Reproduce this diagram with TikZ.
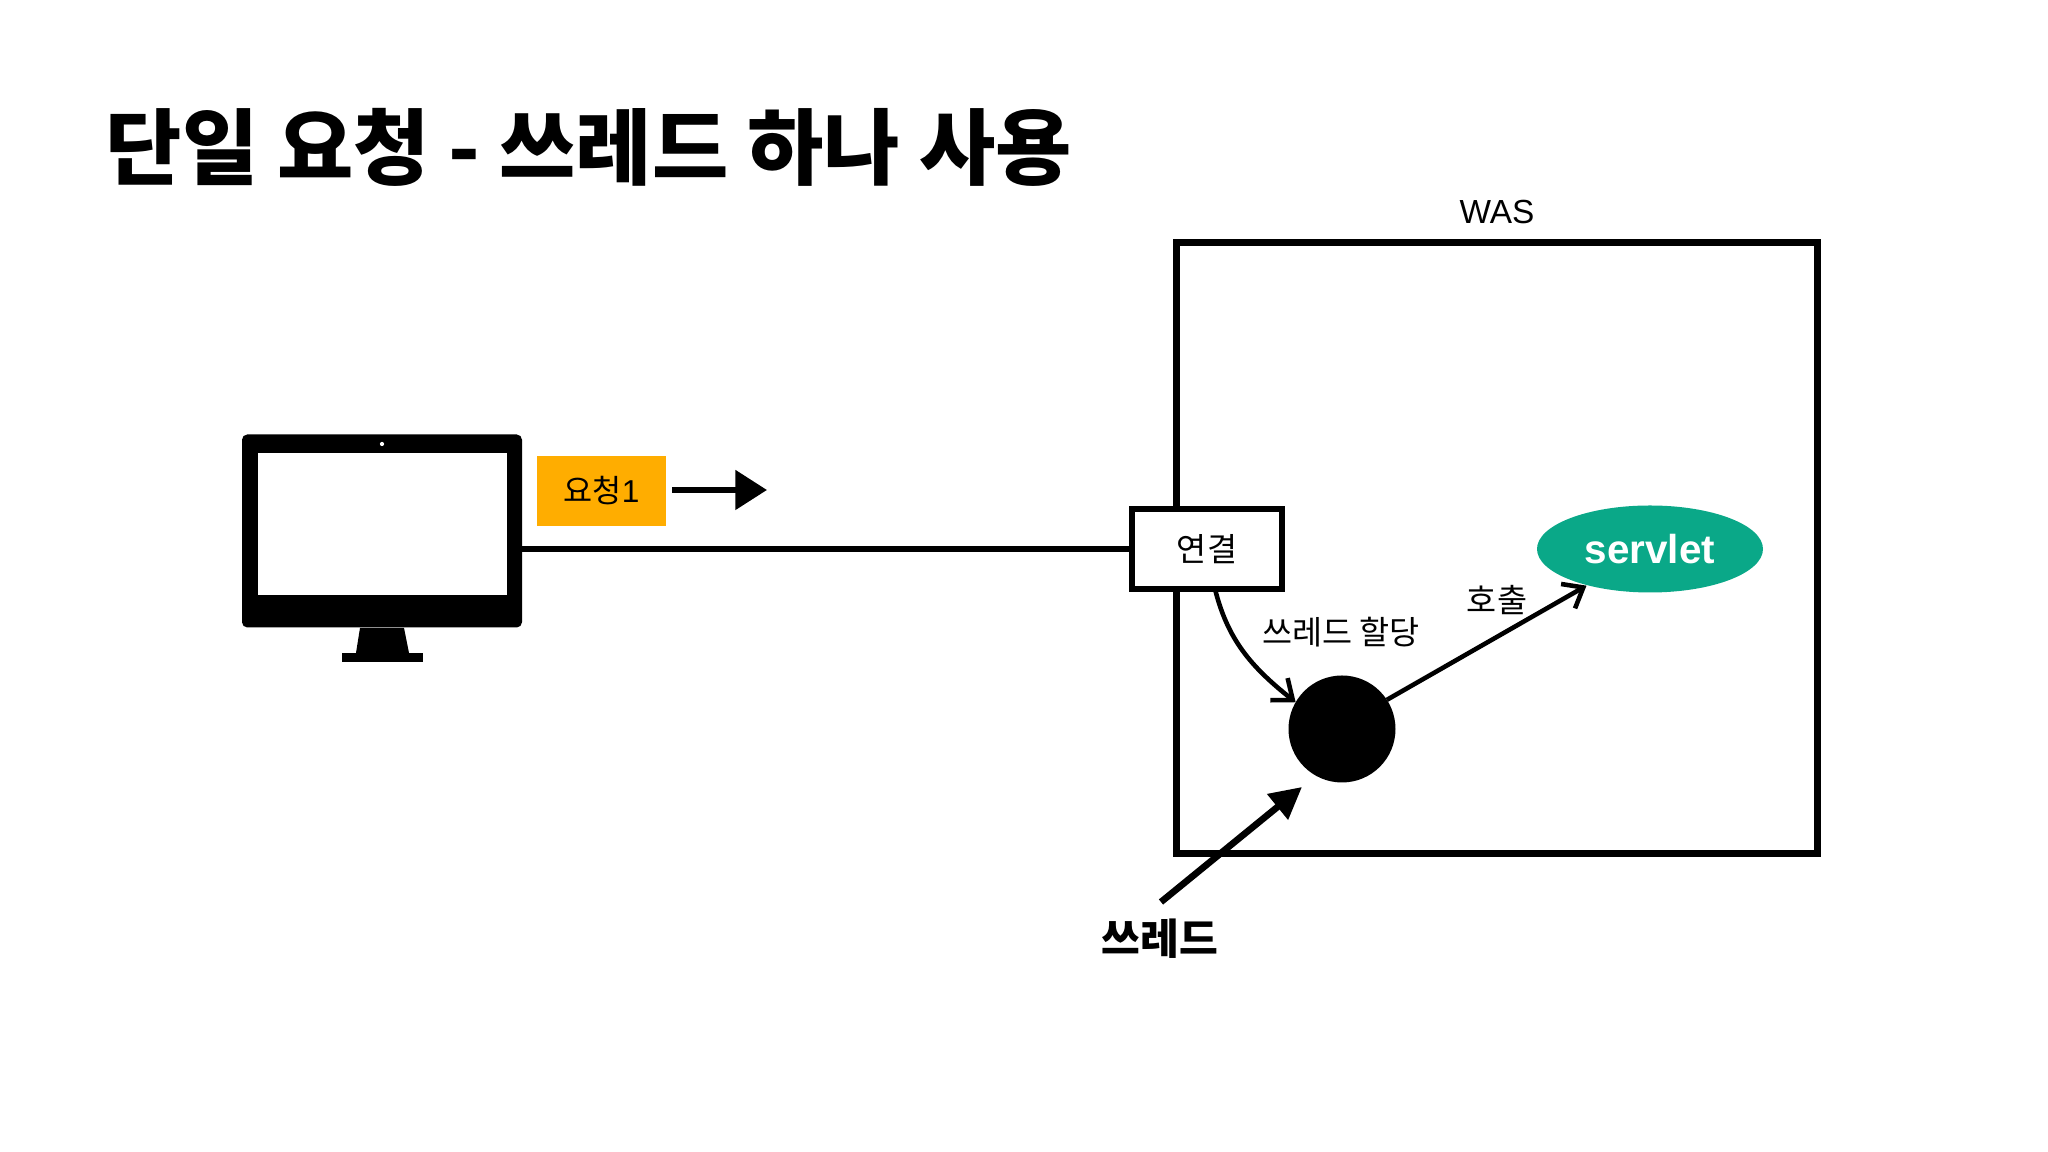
\documentclass[tikz,border=0pt]{standalone}
\usepackage{fontspec}
\setmainfont{Noto Sans CJK KR}
\newfontfamily\latinfont{Liberation Sans}
\usetikzlibrary{shapes.geometric,arrows.meta,bending}

\begin{document}
\begin{tikzpicture}[
    boxline/.style = {draw, line width=1.8pt, outer sep=0pt, inner sep=0pt},
    wasbox/.style  = {boxline, minimum width=6.41cm, minimum height=6.11cm},
    connbox/.style = {boxline, fill=white, minimum width=1.50cm, minimum height=0.80cm,
                      font=\fontsize{9.3}{11}\selectfont},
    reqbox/.style  = {fill=reqorange, inner sep=0pt, minimum width=1.29cm, minimum height=0.70cm,
                      font=\fontsize{9}{11}\selectfont},
    svlt/.style    = {ellipse, fill=svltgreen, text=white, inner sep=0pt,
                      minimum width=2.26cm, minimum height=0.87cm,
                      font=\latinfont\fontsize{11.5}{13}\bfseries},
    lbl/.style     = {inner sep=0pt, font=\fontsize{9.3}{11}\selectfont},
    wire/.style    = {line width=1.5pt},
    call/.style    = {line width=1.3pt, -{Straight Barb[length=5pt,width=8pt,line width=1.3pt]}}
]
    \definecolor{reqorange}{HTML}{FFAD00}
    \definecolor{svltgreen}{HTML}{0AA888}
    \useasboundingbox (0,0) rectangle (20.48,11.52);

    %-- Title ---------------------------------------------------------------
    \node[anchor=west, inner sep=0pt, font=\fontsize{23.6}{28}\bfseries] (title)
          at (1.05,10.05) {단일 요청 - 쓰레드 하나 사용};

    %-- Monitor -------------------------------------------------------------
    \node[fill=black, rounded corners=1.5pt, inner sep=0pt, outer sep=0pt,
          minimum width=2.80cm, minimum height=1.93cm] (monitor) at (3.82,6.21) {};
    \fill[white] (2.58,5.57) rectangle (5.07,6.99);
    \fill[white] (3.82,7.08) circle (0.6pt);
    \fill (3.60,5.24) -- (3.56,4.99) -- (4.09,4.99) -- (4.04,5.24) -- cycle;
    \fill (3.42,4.90) rectangle (4.23,4.99);

    %-- Request -------------------------------------------------------------
    \node[reqbox] (req) at (6.015,6.61) {요청{\latinfont 1}};
    \coordinate (reqtail) at (6.72,6.62);
    \coordinate (reqhead) at (7.67,6.62);
    \draw[line width=1.7pt, -{Triangle[length=9pt,width=11pt]}] (reqtail) -- (reqhead);

    %-- WAS -----------------------------------------------------------------
    \node[wasbox] (was) at (14.97,6.04) {};
    \node[inner sep=0pt, font=\latinfont\fontsize{9.5}{11}\selectfont] (waslbl) at (14.97,9.40) {WAS};

    %-- Connection, thread, servlet ----------------------------------------
    \node[connbox] (conn) at (12.07,6.03) {연결};
    \node[svlt] (servlet) at (16.50,6.03) {servlet};
    \node[circle, fill=black, inner sep=0pt, outer sep=0pt, minimum size=1.07cm] (thr) at (13.42,4.23) {};

    \draw[wire] (monitor.east |- conn.west) -- (conn.west);
    \draw[call] (conn.south) ++(0.08,0) to[out=-76,in=142] (thr.150);
    \draw[call] (thr.33) -- (servlet.-150);

    \node[lbl] (assign) at (13.41,5.20) {쓰레드 할당};
    \node[lbl] (invoke) at (14.97,5.52) {호출};

    %-- Thread label with its arrow -----------------------------------------
    \node[inner sep=0pt, font=\fontsize{12}{14}\bfseries] (thread) at (11.60,2.13) {쓰레드};
    \coordinate (thrtail) at (11.61,2.50);
    \draw[line width=1.9pt, -{Triangle[length=9pt,width=9pt]}] (thrtail) -- (13.02,3.65);
\end{tikzpicture}
\end{document}
